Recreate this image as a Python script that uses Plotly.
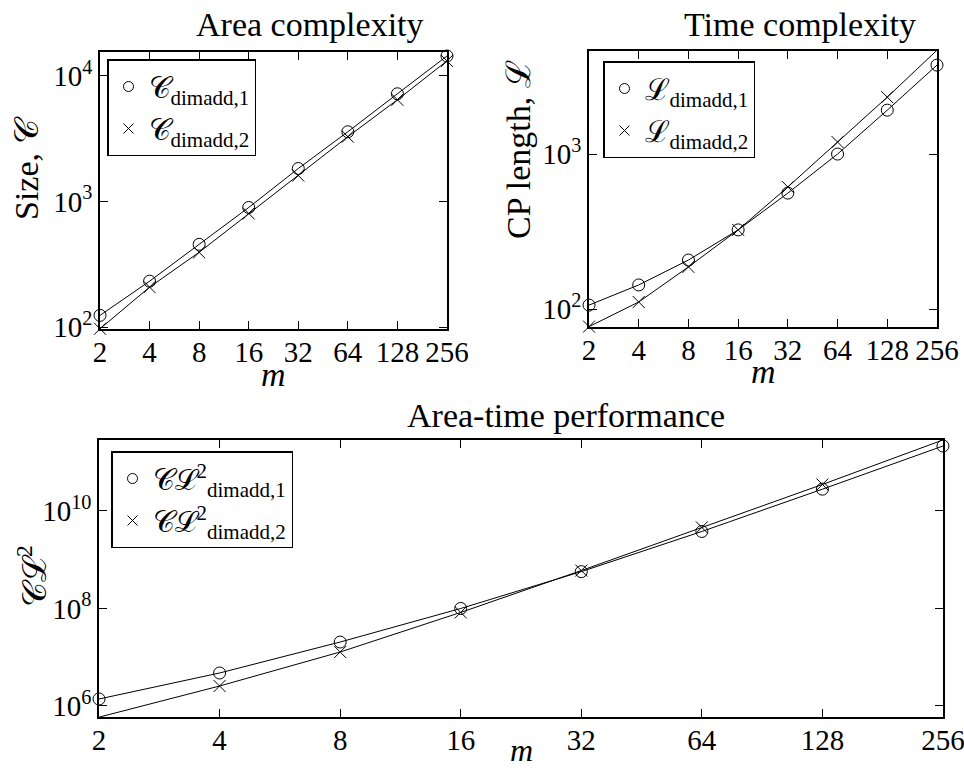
import math
import plotly.graph_objects as go

# ---------------- data ----------------
m_vals = [2, 4, 8, 16, 32, 64, 128, 256]
m_labels = ["2", "4", "8", "16", "32", "64", "128", "256"]

size_1 = [124, 232, 456, 896, 1830, 3590, 7200, 14400]
size_2 = [97, 208, 394, 803, 1610, 3280, 6450, 13150]

cp_1 = [106, 143, 207, 324, 560, 1000, 1920, 3750]
cp_2 = [77, 111, 187, 324, 613, 1195, 2330, 4680]

at_1 = [1.39e6, 4.75e6, 2.05e7, 1.0e8, 5.7e8, 3.8e9, 2.8e10, 2.15e11]
at_2 = [5.9e5, 2.57e6, 1.28e7, 8.3e7, 6.0e8, 4.6e9, 3.5e10, 2.86e11]

size_ticks = [1e2, 1e3, 1e4]
size_ticktext = ["10<sup>2</sup>", "10<sup>3</sup>", "10<sup>4</sup>"]
cp_ticks = [1e2, 1e3]
cp_ticktext = ["10<sup>2</sup>", "10<sup>3</sup>"]
at_ticks = [1e6, 1e8, 1e10]
at_ticktext = ["10<sup>6</sup>", "10<sup>8</sup>", "10<sup>10</sup>"]

W, H = 964, 770
FONT = "Liberation Serif"
CAL_C = "\U0001D49E"
CAL_L = "\u2112"


def px(x):
    return x / W


def py(y):
    return 1 - y / H


fig = go.Figure()

panels = [
    dict(xa="x", ya="y", leg="legend", s1=size_1, s2=size_2,
         n1=CAL_C + "<sub>dimadd,1</sub>", n2=CAL_C + "<sub>dimadd,2</sub>"),
    dict(xa="x2", ya="y2", leg="legend2", s1=cp_1, s2=cp_2,
         n1=CAL_L + "<sub>dimadd,1</sub>", n2=CAL_L + "<sub>dimadd,2</sub>"),
    dict(xa="x3", ya="y3", leg="legend3", s1=at_1, s2=at_2,
         n1=CAL_C + CAL_L + "<sup>2</sup><sub>dimadd,1</sub>",
         n2=CAL_C + CAL_L + "<sup>2</sup><sub>dimadd,2</sub>"),
]

for p in panels:
    for vals, sym in [(p["s1"], "circle-open"), (p["s2"], "x-thin-open")]:
        fig.add_trace(go.Scatter(
            x=m_vals, y=vals, mode="lines+markers", xaxis=p["xa"], yaxis=p["ya"],
            line=dict(color="black", width=1),
            marker=dict(symbol=sym, size=12, color="black", line=dict(color="black", width=1)),
            showlegend=False, cliponaxis=False))
    for name, sym in [(p["n1"], "circle-open"), (p["n2"], "x-thin-open")]:
        fig.add_trace(go.Scatter(
            x=[None], y=[None], mode="markers", xaxis=p["xa"], yaxis=p["ya"],
            name=name, legend=p["leg"],
            marker=dict(symbol=sym, size=10, color="black", line=dict(color="black", width=1))))

axis_common = dict(
    type="log", showline=True, linecolor="black", linewidth=1.5, mirror="ticks",
    ticks="inside", ticklen=8, tickcolor="black", tickwidth=1,
    showgrid=False, zeroline=False, automargin=False, tickangle=0,
    ticklabeloverflow="allow",
    tickfont=dict(family=FONT, size=29, color="black"),
)

xr = [math.log10(2) - 1e-4, math.log10(256) + 1e-4]

layout = dict(
    width=W, height=H, margin=dict(l=0, r=0, t=0, b=0, autoexpand=False),
    paper_bgcolor="white", plot_bgcolor="white",
    font=dict(family=FONT, color="black"),
    xaxis=dict(axis_common, domain=[px(100), px(447)], range=xr, anchor="y",
               tickvals=m_vals, ticktext=m_labels, ticklabelstandoff=-4),
    yaxis=dict(axis_common, domain=[py(329), py(52)], range=[1.985, 4.19], anchor="x",
               tickvals=size_ticks, ticktext=size_ticktext),
    xaxis2=dict(axis_common, domain=[px(589), px(937)], range=xr, anchor="y2",
                tickvals=m_vals, ticktext=m_labels, ticklabelstandoff=-4),
    yaxis2=dict(axis_common, domain=[py(327), py(51)], range=[1.884, 3.665], anchor="x2",
                tickvals=cp_ticks, ticktext=cp_ticktext),
    xaxis3=dict(axis_common, domain=[px(99), px(943)], range=xr, anchor="y3",
                tickvals=m_vals, ticktext=m_labels, ticklabelstandoff=-4),
    yaxis3=dict(axis_common, domain=[py(717), py(440)], range=[5.774, 11.456], anchor="x3",
                tickvals=at_ticks, ticktext=at_ticktext),
)

leg_common = dict(bgcolor="white", bordercolor="black", borderwidth=1.5,
                  font=dict(family=FONT, size=30, color="black"),
                  xanchor="left", yanchor="top", itemwidth=30, tracegroupgap=0)
layout["legend"] = dict(leg_common, x=px(107), y=py(59))
layout["legend2"] = dict(leg_common, x=px(603), y=py(61))
layout["legend3"] = dict(leg_common, x=px(111), y=py(451))

fig.update_layout(**layout)

ann = []
def add_text(x, y, text, size, angle=0, yanchor="middle"):
    ann.append(dict(x=px(x), y=py(y), xref="paper", yref="paper", text=text,
                    showarrow=False, textangle=angle, xanchor="center", yanchor=yanchor,
                    font=dict(family=FONT, size=size, color="black")))

add_text(310, 25, "Area complexity", 34)
add_text(800, 25, "Time complexity", 34)
add_text(566, 415, "Area-time performance", 34)
add_text(27, 168, "Size, " + CAL_C, 34, -90)
add_text(519, 150, "CP length, " + CAL_L, 34, -90)
add_text(32, 576, CAL_C + CAL_L + "<sup>2</sup>", 34, -90)
add_text(273, 374, "<i>m</i>", 34)
add_text(763, 372, "<i>m</i>", 34)
add_text(521, 770, "<i>m</i>", 32, yanchor="bottom")

fig.update_layout(annotations=ann)

fig.write_html("out.html", config={"displayModeBar": False},
               post_script="document.body.style.margin='0';")
